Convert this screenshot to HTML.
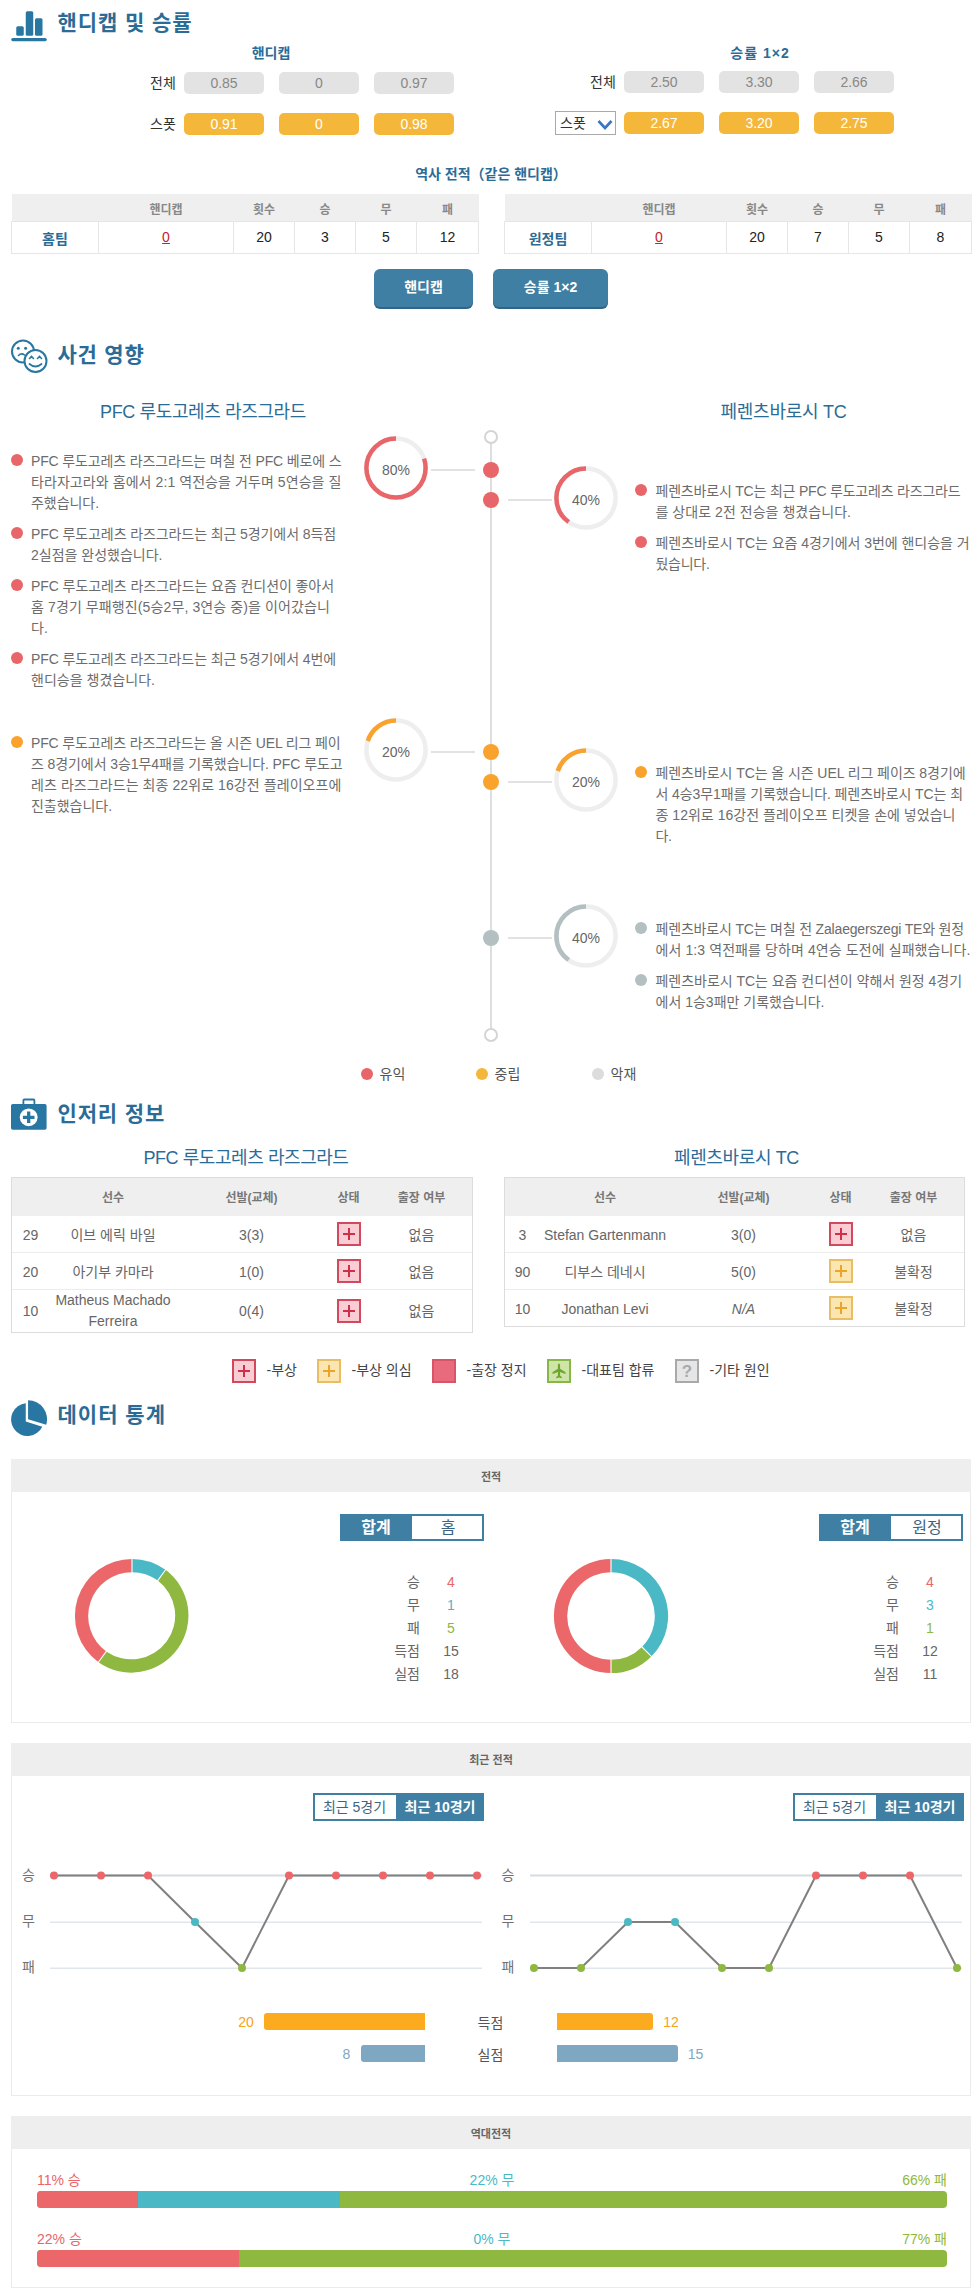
<!DOCTYPE html><html lang="ko"><head><meta charset="utf-8"><title>핸디캡 및 승률</title><style>
*{box-sizing:border-box;margin:0;padding:0}
html,body{width:976px;height:2289px;background:#fff;overflow:hidden}
body{font-family:"Liberation Sans","Noto Sans CJK KR",sans-serif;font-size:13px;color:#666;position:relative}
.abs{position:absolute}
.h1{position:absolute;left:57.5px;font-size:21px;font-weight:bold;color:#2b6c97;white-space:nowrap;line-height:30px}
.pill{position:absolute;width:80px;height:22px;border-radius:5px;text-align:center;line-height:22px;font-size:14px}
.pg{background:#e3e3e3;color:#888}
.py{background:#f5b73a;color:#fff}
.lab{position:absolute;font-size:14px;color:#333;line-height:20px;white-space:nowrap}
.sub{position:absolute;font-size:14px;font-weight:bold;color:#2b6c97;text-align:center;white-space:nowrap;line-height:18px}
.tbl{position:absolute;border-collapse:collapse;table-layout:fixed}
.tbl td,.tbl th{text-align:center;padding:0;font-weight:normal;white-space:nowrap}
.btn{position:absolute;height:38px;border-radius:6px;background:#3f7fa3;box-shadow:0 2px 0 #2f6685;color:#fff;text-align:center;line-height:37px;font-size:14px;font-weight:bold}
.team{position:absolute;font-size:18px;color:#2b6c97;text-align:center;white-space:nowrap;line-height:24px}
.ev{position:absolute;font-size:14px;line-height:21px;color:#6c6c6c;white-space:nowrap}
.dot{position:absolute;border-radius:50%}
</style></head><body>
<svg class="abs" style="left:10px;top:9px" width="38" height="33" viewBox="0 0 38 33">
<rect x="6.25" y="17.25" width="7.5" height="9.5" rx="1.5" fill="#2876a2"/><rect x="15.75" y="2.25" width="7.5" height="24.5" rx="1.5" fill="#2876a2"/><rect x="25" y="9.25" width="7.5" height="17.5" rx="1.5" fill="#2876a2"/><rect x="1.25" y="29" width="35.5" height="3.2" rx="1.6" fill="#2876a2"/></svg>
<div class="h1" style="top:8.2px;letter-spacing:0.929px">핸디캡 및 승률</div>
<div class="sub" style="left:221px;width:100px;top:43.5px">핸디캡</div>
<div class="sub" style="left:710px;width:100px;top:44px;letter-spacing:1.02px">승률 1×2</div>
<div class="lab" style="left:150px;top:73px">전체</div>
<div class="lab" style="left:150px;top:114px">스폿</div>
<div class="lab" style="left:590px;top:72px">전체</div>
<div class="pill pg" style="left:184px;top:72px">0.85</div><div class="pill py" style="left:184px;top:113px">0.91</div>
<div class="pill pg" style="left:279px;top:72px">0</div><div class="pill py" style="left:279px;top:113px">0</div>
<div class="pill pg" style="left:374px;top:72px">0.97</div><div class="pill py" style="left:374px;top:113px">0.98</div>
<div class="pill pg" style="left:624px;top:71px">2.50</div><div class="pill py" style="left:624px;top:112px">2.67</div>
<div class="pill pg" style="left:719px;top:71px">3.30</div><div class="pill py" style="left:719px;top:112px">3.20</div>
<div class="pill pg" style="left:814px;top:71px">2.66</div><div class="pill py" style="left:814px;top:112px">2.75</div>
<div class="abs" style="left:555px;top:111px;width:61px;height:23.5px;border:1px solid #a9a9a9;background:#fff"></div>
<div class="lab" style="left:560px;top:113px">스폿</div>
<svg class="abs" style="left:596.5px;top:119px" width="16" height="12" viewBox="0 0 16 12"><path d="M1.5 2 L8 9 L14.5 2" fill="none" stroke="#3a76c4" stroke-width="2.6"/></svg>
<div class="sub" style="left:341px;width:300px;top:165px;font-size:14px">역사 전적（같은 핸디캡）</div>
<table class="tbl" style="left:11px;top:194px;width:467px"><col style="width:87px"><col style="width:135px"><col style="width:61px"><col style="width:61px"><col style="width:61px"><col style="width:62px"><tr><th style="height:27px;padding-top:3px;background:#efefef;color:#888;font-size:12px;font-weight:bold"></th><th style="height:27px;padding-top:3px;background:#efefef;color:#888;font-size:12px;font-weight:bold">핸디캡</th><th style="height:27px;padding-top:3px;background:#efefef;color:#888;font-size:12px;font-weight:bold">횟수</th><th style="height:27px;padding-top:3px;background:#efefef;color:#888;font-size:12px;font-weight:bold">승</th><th style="height:27px;padding-top:3px;background:#efefef;color:#888;font-size:12px;font-weight:bold">무</th><th style="height:27px;padding-top:3px;background:#efefef;color:#888;font-size:12px;font-weight:bold">패</th></tr><tr><td style="height:32px;padding-top:1px;border:1px solid #e6e6e6;color:#2b6c97;font-weight:bold;font-size:14px">홈팀</td><td style="border:1px solid #e6e6e6;color:#c8202c;font-size:14px"><span style="text-decoration:underline">0</span></td><td style="border:1px solid #e6e6e6;color:#222;font-size:14px">20</td><td style="border:1px solid #e6e6e6;color:#222;font-size:14px">3</td><td style="border:1px solid #e6e6e6;color:#222;font-size:14px">5</td><td style="border:1px solid #e6e6e6;color:#222;font-size:14px">12</td></tr></table>
<table class="tbl" style="left:504px;top:194px;width:467px"><col style="width:87px"><col style="width:135px"><col style="width:61px"><col style="width:61px"><col style="width:61px"><col style="width:62px"><tr><th style="height:27px;padding-top:3px;background:#efefef;color:#888;font-size:12px;font-weight:bold"></th><th style="height:27px;padding-top:3px;background:#efefef;color:#888;font-size:12px;font-weight:bold">핸디캡</th><th style="height:27px;padding-top:3px;background:#efefef;color:#888;font-size:12px;font-weight:bold">횟수</th><th style="height:27px;padding-top:3px;background:#efefef;color:#888;font-size:12px;font-weight:bold">승</th><th style="height:27px;padding-top:3px;background:#efefef;color:#888;font-size:12px;font-weight:bold">무</th><th style="height:27px;padding-top:3px;background:#efefef;color:#888;font-size:12px;font-weight:bold">패</th></tr><tr><td style="height:32px;padding-top:1px;border:1px solid #e6e6e6;color:#2b6c97;font-weight:bold;font-size:14px">원정팀</td><td style="border:1px solid #e6e6e6;color:#c8202c;font-size:14px"><span style="text-decoration:underline">0</span></td><td style="border:1px solid #e6e6e6;color:#222;font-size:14px">20</td><td style="border:1px solid #e6e6e6;color:#222;font-size:14px">7</td><td style="border:1px solid #e6e6e6;color:#222;font-size:14px">5</td><td style="border:1px solid #e6e6e6;color:#222;font-size:14px">8</td></tr></table>
<div class="btn" style="left:374px;top:269px;width:99px">핸디캡</div>
<div class="btn" style="left:493px;top:269px;width:115px">승률 1×2</div>
<svg class="abs" style="left:9px;top:338px" width="42" height="38" viewBox="0 0 42 38"><g fill="none" stroke="#2876a2" stroke-width="2" stroke-linecap="round"><circle cx="14" cy="13.5" r="11" /><circle cx="26.5" cy="23" r="11" fill="#fff"/><path d="M20.5 20.5 l2 -2 l2 2 M28.5 20.5 l2 -2 l2 2" stroke-width="1.6"/><path d="M20.5 26 q6 5 12 0" stroke-width="1.8"/><path d="M9.5 17.5 q3 -3 6 -0.5" stroke-width="1.6"/></g><circle cx="9.3" cy="10.3" r="1.5" fill="#2876a2"/><circle cx="16.6" cy="10.3" r="1.5" fill="#2876a2"/></svg>
<div class="h1" style="top:340px;letter-spacing:0.794px">사건 영향</div>
<div class="team" style="left:53px;width:300px;top:400px;letter-spacing:-0.374px">PFC 루도고레츠 라즈그라드</div>
<div class="team" style="left:633.5px;width:300px;top:400px;letter-spacing:-0.262px">페렌츠바로시 TC</div>
<div class="abs" style="left:490px;top:443px;width:2px;height:586px;background:#dedede"></div>
<div class="dot" style="left:484px;top:430px;width:14px;height:14px;border:2px solid #d4d4d4;background:#fff"></div>
<div class="dot" style="left:484px;top:1028px;width:14px;height:14px;border:2px solid #d4d4d4;background:#fff"></div>
<div class="dot" style="left:483px;top:462px;width:16px;height:16px;background:#e8656a"></div>
<div class="dot" style="left:483px;top:492px;width:16px;height:16px;background:#e8656a"></div>
<div class="abs" style="left:431px;top:469px;width:44px;height:2px;background:#e2e2e2"></div>
<div class="abs" style="left:507.5px;top:499px;width:44px;height:2px;background:#e2e2e2"></div>
<svg class="abs" style="left:362px;top:434px" width="68" height="68" viewBox="-34 -34 68 68"><circle r="29.6" fill="none" stroke="#eeeeee" stroke-width="4.5"/><circle r="29.6" fill="none" stroke="#e8656a" stroke-width="4.5" stroke-dasharray="148.79 185.98" transform="scale(-1,1) rotate(-90)"/><text x="0" y="7" text-anchor="middle" font-size="14" fill="#666" font-family='"Liberation Sans","Noto Sans CJK KR",sans-serif'>80%</text></svg>
<svg class="abs" style="left:552px;top:464px" width="68" height="68" viewBox="-34 -34 68 68"><circle r="29.6" fill="none" stroke="#eeeeee" stroke-width="4.5"/><circle r="29.6" fill="none" stroke="#e8656a" stroke-width="4.5" stroke-dasharray="74.39 185.98" transform="scale(-1,1) rotate(-90)"/><text x="0" y="7" text-anchor="middle" font-size="14" fill="#666" font-family='"Liberation Sans","Noto Sans CJK KR",sans-serif'>40%</text></svg>
<div class="dot" style="left:10.5px;top:453.7px;width:12px;height:12px;background:#e8656a"></div>
<div class="ev" style="left:31px;top:450.8px"><span style="letter-spacing:-0.148px">PFC 루도고레츠 라즈그라드는 며칠 전 PFC 베로에 스</span><br><span style="letter-spacing:0.077px">타라자고라와 홈에서 2:1 역전승을 거두며 5연승을 질</span><br><span style="letter-spacing:-0.049px">주했습니다.</span></div>
<div class="dot" style="left:10.5px;top:526.7px;width:12px;height:12px;background:#e8656a"></div>
<div class="ev" style="left:31px;top:523.8px"><span style="letter-spacing:-0.095px">PFC 루도고레츠 라즈그라드는 최근 5경기에서 8득점</span><br><span style="letter-spacing:0.000px">2실점을 완성했습니다.</span></div>
<div class="dot" style="left:10.5px;top:578.7px;width:12px;height:12px;background:#e8656a"></div>
<div class="ev" style="left:31px;top:575.8px"><span style="letter-spacing:-0.074px">PFC 루도고레츠 라즈그라드는 요즘 컨디션이 좋아서</span><br><span style="letter-spacing:0.111px">홈 7경기 무패행진(5승2무, 3연승 중)을 이어갔습니</span><br><span style="letter-spacing:0.109px">다.</span></div>
<div class="dot" style="left:10.5px;top:652.2px;width:12px;height:12px;background:#e8656a"></div>
<div class="ev" style="left:31px;top:649.3px"><span style="letter-spacing:-0.095px">PFC 루도고레츠 라즈그라드는 최근 5경기에서 4번에</span><br><span style="letter-spacing:0.027px">핸디승을 챙겼습니다.</span></div>
<div class="dot" style="left:635.0px;top:483.7px;width:12px;height:12px;background:#e8656a"></div>
<div class="ev" style="left:655.5px;top:480.8px"><span style="letter-spacing:-0.202px">페렌츠바로시 TC는 최근 PFC 루도고레츠 라즈그라드</span><br><span style="letter-spacing:0.043px">를 상대로 2전 전승을 챙겼습니다.</span></div>
<div class="dot" style="left:635.0px;top:535.7px;width:12px;height:12px;background:#e8656a"></div>
<div class="ev" style="left:655.5px;top:532.8px"><span style="letter-spacing:-0.039px">페렌츠바로시 TC는 요즘 4경기에서 3번에 핸디승을 거</span><br><span style="letter-spacing:-0.284px">뒀습니다.</span></div>
<div class="dot" style="left:483px;top:744px;width:16px;height:16px;background:#f9a22c"></div>
<div class="dot" style="left:483px;top:774px;width:16px;height:16px;background:#f9a22c"></div>
<div class="abs" style="left:431px;top:751px;width:44px;height:2px;background:#e2e2e2"></div>
<div class="abs" style="left:507.5px;top:781px;width:44px;height:2px;background:#e2e2e2"></div>
<svg class="abs" style="left:362px;top:716px" width="68" height="68" viewBox="-34 -34 68 68"><circle r="29.6" fill="none" stroke="#eeeeee" stroke-width="4.5"/><circle r="29.6" fill="none" stroke="#f9a22c" stroke-width="4.5" stroke-dasharray="37.20 185.98" transform="scale(-1,1) rotate(-90)"/><text x="0" y="7" text-anchor="middle" font-size="14" fill="#666" font-family='"Liberation Sans","Noto Sans CJK KR",sans-serif'>20%</text></svg>
<svg class="abs" style="left:552px;top:746px" width="68" height="68" viewBox="-34 -34 68 68"><circle r="29.6" fill="none" stroke="#eeeeee" stroke-width="4.5"/><circle r="29.6" fill="none" stroke="#f9a22c" stroke-width="4.5" stroke-dasharray="37.20 185.98" transform="scale(-1,1) rotate(-90)"/><text x="0" y="7" text-anchor="middle" font-size="14" fill="#666" font-family='"Liberation Sans","Noto Sans CJK KR",sans-serif'>20%</text></svg>
<div class="dot" style="left:10.5px;top:735.7px;width:12px;height:12px;background:#f9a22c"></div>
<div class="ev" style="left:31px;top:732.8px"><span style="letter-spacing:-0.139px">PFC 루도고레츠 라즈그라드는 올 시즌 UEL 리그 페이</span><br><span style="letter-spacing:-0.091px">즈 8경기에서 3승1무4패를 기록했습니다. PFC 루도고</span><br><span style="letter-spacing:0.079px">레츠 라즈그라드는 최종 22위로 16강전 플레이오프에</span><br><span style="letter-spacing:-0.025px">진출했습니다.</span></div>
<div class="dot" style="left:635.0px;top:765.7px;width:12px;height:12px;background:#f9a22c"></div>
<div class="ev" style="left:655.5px;top:762.8px"><span style="letter-spacing:-0.072px">페렌츠바로시 TC는 올 시즌 UEL 리그 페이즈 8경기에</span><br><span style="letter-spacing:-0.086px">서 4승3무1패를 기록했습니다. 페렌츠바로시 TC는 최</span><br><span style="letter-spacing:0.027px">종 12위로 16강전 플레이오프 티켓을 손에 넣었습니</span><br><span style="letter-spacing:-0.391px">다.</span></div>
<div class="dot" style="left:483px;top:930px;width:16px;height:16px;background:#b3bfc0"></div>
<div class="abs" style="left:507.5px;top:937px;width:44px;height:2px;background:#e2e2e2"></div>
<svg class="abs" style="left:552px;top:902px" width="68" height="68" viewBox="-34 -34 68 68"><circle r="29.6" fill="none" stroke="#eeeeee" stroke-width="4.5"/><circle r="29.6" fill="none" stroke="#b3bfc0" stroke-width="4.5" stroke-dasharray="74.39 185.98" transform="scale(-1,1) rotate(-90)"/><text x="0" y="7" text-anchor="middle" font-size="14" fill="#666" font-family='"Liberation Sans","Noto Sans CJK KR",sans-serif'>40%</text></svg>
<div class="dot" style="left:635.0px;top:921.7px;width:12px;height:12px;background:#b3bfc0"></div>
<div class="ev" style="left:655.5px;top:918.8px"><span style="letter-spacing:-0.181px">페렌츠바로시 TC는 며칠 전 Zalaegerszegi TE와 원정</span><br><span style="letter-spacing:0.094px">에서 1:3 역전패를 당하며 4연승 도전에 실패했습니다.</span></div>
<div class="dot" style="left:635.0px;top:973.7px;width:12px;height:12px;background:#b3bfc0"></div>
<div class="ev" style="left:655.5px;top:970.8px"><span style="letter-spacing:-0.031px">페렌츠바로시 TC는 요즘 컨디션이 약해서 원정 4경기</span><br><span style="letter-spacing:0.005px">에서 1승3패만 기록했습니다.</span></div>
<div class="dot" style="left:360.5px;top:1067.5px;width:12px;height:12px;background:#e8656a"></div>
<div class="abs" style="left:379.5px;top:1064px;font-size:14px;line-height:20px;color:#555;white-space:nowrap">유익</div>
<div class="dot" style="left:475.5px;top:1067.5px;width:12px;height:12px;background:#f5b73a"></div>
<div class="abs" style="left:494.5px;top:1064px;font-size:14px;line-height:20px;color:#555;white-space:nowrap">중립</div>
<div class="dot" style="left:591.5px;top:1067.5px;width:12px;height:12px;background:#dcdcdc"></div>
<div class="abs" style="left:610.5px;top:1064px;font-size:14px;line-height:20px;color:#555;white-space:nowrap">악재</div>
<svg class="abs" style="left:10.4px;top:1096.6px" width="38" height="34" viewBox="0 0 38 34"><rect x="13.4" y="2.5" width="11" height="7" rx="0.8" fill="none" stroke="#2876a2" stroke-width="1.8"/><rect x="1" y="7" width="35.6" height="25.8" rx="1.8" fill="#2876a2"/><circle cx="18.7" cy="20.3" r="8.9" fill="#fff"/><path d="M18.7 14.5 v11.6 M12.9 20.3 h11.6" stroke="#2876a2" stroke-width="3.3"/></svg>
<div class="h1" style="top:1099.3px;letter-spacing:0.853px">인저리 정보</div>
<div class="team" style="left:96px;width:300px;top:1146px;letter-spacing:-0.441px">PFC 루도고레츠 라즈그라드</div>
<div class="team" style="left:586.5px;width:300px;top:1146px;letter-spacing:-0.373px">페렌츠바로시 TC</div>
<div class="abs" style="left:11px;top:1177px;width:462px;height:156px;border:1px solid #dcdcdc"></div>
<div class="abs" style="left:12px;top:1178px;width:460px;height:37.6px;background:#efefef"></div>
<div class="abs" style="left:53px;width:120px;top:1189px;text-align:center;font-size:12px;font-weight:bold;color:#777;line-height:18px;white-space:nowrap">선수</div>
<div class="abs" style="left:191.5px;width:120px;top:1189px;text-align:center;font-size:12px;font-weight:bold;color:#777;line-height:18px;white-space:nowrap">선발(교체)</div>
<div class="abs" style="left:288.5px;width:120px;top:1189px;text-align:center;font-size:12px;font-weight:bold;color:#777;line-height:18px;white-space:nowrap">상태</div>
<div class="abs" style="left:361.5px;width:120px;top:1189px;text-align:center;font-size:12px;font-weight:bold;color:#777;line-height:18px;white-space:nowrap">출장 여부</div>
<div class="abs" style="left:0.5px;width:60px;top:1225.0px;text-align:center;font-size:14px;color:#666;line-height:20px">29</div>
<div class="abs" style="left:33px;width:160px;top:1224.5px;text-align:center;font-size:14px;color:#666;line-height:21px;white-space:nowrap">이브 에릭 바일</div>
<div class="abs" style="left:211.5px;width:80px;top:1225.0px;text-align:center;font-size:14px;color:#666;line-height:20px">3(3)</div>
<svg class="abs" style="left:336.5px;top:1222px" width="24" height="24" viewBox="0 0 24 24"><rect x="1" y="1" width="22" height="22" fill="#f9cdd3" stroke="#d2495d" stroke-width="2"/><path d="M12 6 v12 M6 12 h12" stroke="#cf3049" stroke-width="2"/></svg>
<div class="abs" style="left:381.5px;width:80px;top:1225.0px;text-align:center;font-size:14px;color:#666;line-height:20px">없음</div>
<div class="abs" style="left:12px;top:1252px;width:460px;height:1px;background:#ececec"></div>
<div class="abs" style="left:0.5px;width:60px;top:1262.0px;text-align:center;font-size:14px;color:#666;line-height:20px">20</div>
<div class="abs" style="left:33px;width:160px;top:1261.5px;text-align:center;font-size:14px;color:#666;line-height:21px;white-space:nowrap">아기부 카마라</div>
<div class="abs" style="left:211.5px;width:80px;top:1262.0px;text-align:center;font-size:14px;color:#666;line-height:20px">1(0)</div>
<svg class="abs" style="left:336.5px;top:1259px" width="24" height="24" viewBox="0 0 24 24"><rect x="1" y="1" width="22" height="22" fill="#f9cdd3" stroke="#d2495d" stroke-width="2"/><path d="M12 6 v12 M6 12 h12" stroke="#cf3049" stroke-width="2"/></svg>
<div class="abs" style="left:381.5px;width:80px;top:1262.0px;text-align:center;font-size:14px;color:#666;line-height:20px">없음</div>
<div class="abs" style="left:12px;top:1289px;width:460px;height:1px;background:#ececec"></div>
<div class="abs" style="left:0.5px;width:60px;top:1301.0px;text-align:center;font-size:14px;color:#666;line-height:20px">10</div>
<div class="abs" style="left:33px;width:160px;top:1290.0px;text-align:center;font-size:14px;color:#666;line-height:21px;white-space:nowrap">Matheus Machado<br>Ferreira</div>
<div class="abs" style="left:211.5px;width:80px;top:1301.0px;text-align:center;font-size:14px;color:#666;line-height:20px">0(4)</div>
<svg class="abs" style="left:336.5px;top:1299px" width="24" height="24" viewBox="0 0 24 24"><rect x="1" y="1" width="22" height="22" fill="#f9cdd3" stroke="#d2495d" stroke-width="2"/><path d="M12 6 v12 M6 12 h12" stroke="#cf3049" stroke-width="2"/></svg>
<div class="abs" style="left:381.5px;width:80px;top:1301.0px;text-align:center;font-size:14px;color:#666;line-height:20px">없음</div>
<div class="abs" style="left:504px;top:1177px;width:461px;height:150px;border:1px solid #dcdcdc"></div>
<div class="abs" style="left:505px;top:1178px;width:459px;height:37.6px;background:#efefef"></div>
<div class="abs" style="left:545px;width:120px;top:1189px;text-align:center;font-size:12px;font-weight:bold;color:#777;line-height:18px;white-space:nowrap">선수</div>
<div class="abs" style="left:683.5px;width:120px;top:1189px;text-align:center;font-size:12px;font-weight:bold;color:#777;line-height:18px;white-space:nowrap">선발(교체)</div>
<div class="abs" style="left:780.5px;width:120px;top:1189px;text-align:center;font-size:12px;font-weight:bold;color:#777;line-height:18px;white-space:nowrap">상태</div>
<div class="abs" style="left:853.5px;width:120px;top:1189px;text-align:center;font-size:12px;font-weight:bold;color:#777;line-height:18px;white-space:nowrap">출장 여부</div>
<div class="abs" style="left:492.5px;width:60px;top:1225.0px;text-align:center;font-size:14px;color:#666;line-height:20px">3</div>
<div class="abs" style="left:525px;width:160px;top:1224.5px;text-align:center;font-size:14px;color:#666;line-height:21px;white-space:nowrap">Stefan Gartenmann</div>
<div class="abs" style="left:703.5px;width:80px;top:1225.0px;text-align:center;font-size:14px;color:#666;line-height:20px">3(0)</div>
<svg class="abs" style="left:828.5px;top:1222px" width="24" height="24" viewBox="0 0 24 24"><rect x="1" y="1" width="22" height="22" fill="#f9cdd3" stroke="#d2495d" stroke-width="2"/><path d="M12 6 v12 M6 12 h12" stroke="#cf3049" stroke-width="2"/></svg>
<div class="abs" style="left:873.5px;width:80px;top:1225.0px;text-align:center;font-size:14px;color:#666;line-height:20px">없음</div>
<div class="abs" style="left:505px;top:1252px;width:459px;height:1px;background:#ececec"></div>
<div class="abs" style="left:492.5px;width:60px;top:1262.0px;text-align:center;font-size:14px;color:#666;line-height:20px">90</div>
<div class="abs" style="left:525px;width:160px;top:1261.5px;text-align:center;font-size:14px;color:#666;line-height:21px;white-space:nowrap">디부스 데네시</div>
<div class="abs" style="left:703.5px;width:80px;top:1262.0px;text-align:center;font-size:14px;color:#666;line-height:20px">5(0)</div>
<svg class="abs" style="left:828.5px;top:1259px" width="24" height="24" viewBox="0 0 24 24"><rect x="1" y="1" width="22" height="22" fill="#fbe6b2" stroke="#e8bd63" stroke-width="2"/><path d="M12 6 v12 M6 12 h12" stroke="#eaa528" stroke-width="2"/></svg>
<div class="abs" style="left:873.5px;width:80px;top:1262.0px;text-align:center;font-size:14px;color:#666;line-height:20px">불확정</div>
<div class="abs" style="left:505px;top:1289px;width:459px;height:1px;background:#ececec"></div>
<div class="abs" style="left:492.5px;width:60px;top:1299.0px;text-align:center;font-size:14px;color:#666;line-height:20px">10</div>
<div class="abs" style="left:525px;width:160px;top:1298.5px;text-align:center;font-size:14px;color:#666;line-height:21px;white-space:nowrap">Jonathan Levi</div>
<div class="abs" style="left:703.5px;width:80px;top:1299.0px;text-align:center;font-size:14px;color:#666;line-height:20px"><i>N/A</i></div>
<svg class="abs" style="left:828.5px;top:1296px" width="24" height="24" viewBox="0 0 24 24"><rect x="1" y="1" width="22" height="22" fill="#fbe6b2" stroke="#e8bd63" stroke-width="2"/><path d="M12 6 v12 M6 12 h12" stroke="#eaa528" stroke-width="2"/></svg>
<div class="abs" style="left:873.5px;width:80px;top:1299.0px;text-align:center;font-size:14px;color:#666;line-height:20px">불확정</div>
<svg class="abs" style="left:232px;top:1359px" width="24" height="24" viewBox="0 0 24 24"><rect x="1" y="1" width="22" height="22" fill="#f9cdd3" stroke="#d2495d" stroke-width="2"/><path d="M12 6 v12 M6 12 h12" stroke="#cf3049" stroke-width="2"/></svg>
<div class="abs" style="left:266.5px;top:1360px;font-size:14px;color:#444;line-height:20px;white-space:nowrap">-부상</div>
<svg class="abs" style="left:317px;top:1359px" width="24" height="24" viewBox="0 0 24 24"><rect x="1" y="1" width="22" height="22" fill="#fbe6b2" stroke="#e8bd63" stroke-width="2"/><path d="M12 6 v12 M6 12 h12" stroke="#eaa528" stroke-width="2"/></svg>
<div class="abs" style="left:351.5px;top:1360px;font-size:14px;color:#444;line-height:20px;white-space:nowrap">-부상 의심</div>
<svg class="abs" style="left:432px;top:1359px" width="24" height="24" viewBox="0 0 24 24"><rect x="1" y="1" width="22" height="22" fill="#e96a7b" stroke="#d9536a" stroke-width="2"/></svg>
<div class="abs" style="left:466.5px;top:1360px;font-size:14px;color:#444;line-height:20px;white-space:nowrap">-출장 정지</div>
<svg class="abs" style="left:547px;top:1359px" width="24" height="24" viewBox="0 0 24 24"><rect x="1" y="1" width="22" height="22" fill="#cfe5a8" stroke="#88b648" stroke-width="2"/><path d="M12 4.5 c0.9 0 1.1 1 1.1 2 v3.2 l5.4 3.6 v1.6 l-5.4 -1.8 v3.6 l1.7 1.3 v1.2 l-2.8 -0.8 l-2.8 0.8 v-1.2 l1.7 -1.3 v-3.6 l-5.4 1.8 v-1.6 l5.4 -3.6 v-3.2 c0 -1 0.2 -2 1.1 -2z" fill="#6ea52f"/></svg>
<div class="abs" style="left:581.5px;top:1360px;font-size:14px;color:#444;line-height:20px;white-space:nowrap">-대표팀 합류</div>
<svg class="abs" style="left:675px;top:1359px" width="24" height="24" viewBox="0 0 24 24"><rect x="1" y="1" width="22" height="22" fill="#e6e6e6" stroke="#a9a9a9" stroke-width="2"/><text x="12" y="18" text-anchor="middle" font-size="17" font-weight="bold" fill="#aaaaaa" font-family='"Liberation Sans",sans-serif'>?</text></svg>
<div class="abs" style="left:709.5px;top:1360px;font-size:14px;color:#444;line-height:20px;white-space:nowrap">-기타 원인</div>
<svg class="abs" style="left:9px;top:1398px" width="42" height="42" viewBox="0 0 42 42"><path d="M16.75 5.29 A16.4 16.4 0 1 0 33.3 28.65 L16.75 23.6 Z" fill="#2876a2"/><path d="M19.05 21.3 L19.05 2.3 A19 19 0 0 1 37.22 26.86 Z" fill="#2876a2"/></svg>
<div class="h1" style="top:1399.8px;letter-spacing:1.012px">데이터 통계</div>
<div class="abs" style="left:11px;top:1459px;width:960px;height:264px;border:1px solid #ebebeb"></div>
<div class="abs" style="left:11px;top:1459px;width:960px;height:33px;background:#eeeeee;text-align:center;font-size:11px;font-weight:bold;color:#666;line-height:36px;overflow:hidden">전적</div>
<div class="abs" style="left:340px;top:1514px;width:144px;height:27px;border:2px solid #3f7fa3;background:#fff"></div>
<div class="abs" style="left:340px;top:1514px;width:72px;height:27px;background:#3f7fa3"></div>
<div class="abs" style="left:340px;top:1514px;width:72px;height:27px;line-height:27px;text-align:center;font-size:16px;color:#fff;font-weight:bold;white-space:nowrap">합계</div>
<div class="abs" style="left:412px;top:1514px;width:72px;height:27px;line-height:27px;text-align:center;font-size:16px;color:#3d6580;font-weight:normal;white-space:nowrap">홈</div>
<div class="abs" style="left:819px;top:1514px;width:144px;height:27px;border:2px solid #3f7fa3;background:#fff"></div>
<div class="abs" style="left:819px;top:1514px;width:72px;height:27px;background:#3f7fa3"></div>
<div class="abs" style="left:819px;top:1514px;width:72px;height:27px;line-height:27px;text-align:center;font-size:16px;color:#fff;font-weight:bold;white-space:nowrap">합계</div>
<div class="abs" style="left:891px;top:1514px;width:72px;height:27px;line-height:27px;text-align:center;font-size:16px;color:#3d6580;font-weight:normal;white-space:nowrap">원정</div>
<svg class="abs" style="left:72.19999999999999px;top:1556.2px" width="120" height="120" viewBox="-60 -60 120 120"><path d="M0.00 -57.10 A57.1 57.1 0 0 1 33.56 -46.19 L25.74 -35.43 A43.8 43.8 0 0 0 0.00 -43.80 Z" fill="#4bb9c5"/><path d="M33.56 -46.19 A57.1 57.1 0 0 1 -33.56 46.19 L-25.74 35.43 A43.8 43.8 0 0 0 25.74 -35.43 Z" fill="#8fb840"/><path d="M-33.56 46.19 A57.1 57.1 0 0 1 -0.00 -57.10 L-0.00 -43.80 A43.8 43.8 0 0 0 -25.74 35.43 Z" fill="#ec6769"/><line x1="0.00" y1="-58.10" x2="0.00" y2="-42.80" stroke="#fff" stroke-width="1.1"/><line x1="34.15" y1="-47.00" x2="25.16" y2="-34.63" stroke="#fff" stroke-width="1.1"/><line x1="-34.15" y1="47.00" x2="-25.16" y2="34.63" stroke="#fff" stroke-width="1.1"/></svg>
<svg class="abs" style="left:551.2px;top:1556.2px" width="120" height="120" viewBox="-60 -60 120 120"><path d="M0.00 -57.10 A57.1 57.1 0 0 1 40.38 40.38 L30.97 30.97 A43.8 43.8 0 0 0 0.00 -43.80 Z" fill="#4bb9c5"/><path d="M40.38 40.38 A57.1 57.1 0 0 1 0.00 57.10 L0.00 43.80 A43.8 43.8 0 0 0 30.97 30.97 Z" fill="#8fb840"/><path d="M0.00 57.10 A57.1 57.1 0 0 1 -0.00 -57.10 L-0.00 -43.80 A43.8 43.8 0 0 0 0.00 43.80 Z" fill="#ec6769"/><line x1="0.00" y1="-58.10" x2="0.00" y2="-42.80" stroke="#fff" stroke-width="1.1"/><line x1="41.08" y1="41.08" x2="30.26" y2="30.26" stroke="#fff" stroke-width="1.1"/><line x1="0.00" y1="58.10" x2="0.00" y2="42.80" stroke="#fff" stroke-width="1.1"/></svg>
<div class="abs" style="left:360px;width:60px;top:1572px;text-align:right;font-size:14px;color:#666;line-height:20px">승</div>
<div class="abs" style="left:431px;width:40px;top:1572px;text-align:center;font-size:14px;color:#e8656a;line-height:20px">4</div>
<div class="abs" style="left:360px;width:60px;top:1595px;text-align:right;font-size:14px;color:#666;line-height:20px">무</div>
<div class="abs" style="left:431px;width:40px;top:1595px;text-align:center;font-size:14px;color:#4bb9c5;line-height:20px">1</div>
<div class="abs" style="left:360px;width:60px;top:1618px;text-align:right;font-size:14px;color:#666;line-height:20px">패</div>
<div class="abs" style="left:431px;width:40px;top:1618px;text-align:center;font-size:14px;color:#8fb840;line-height:20px">5</div>
<div class="abs" style="left:360px;width:60px;top:1641px;text-align:right;font-size:14px;color:#666;line-height:20px">득점</div>
<div class="abs" style="left:431px;width:40px;top:1641px;text-align:center;font-size:14px;color:#666;line-height:20px">15</div>
<div class="abs" style="left:360px;width:60px;top:1664px;text-align:right;font-size:14px;color:#666;line-height:20px">실점</div>
<div class="abs" style="left:431px;width:40px;top:1664px;text-align:center;font-size:14px;color:#666;line-height:20px">18</div>
<div class="abs" style="left:839px;width:60px;top:1572px;text-align:right;font-size:14px;color:#666;line-height:20px">승</div>
<div class="abs" style="left:910px;width:40px;top:1572px;text-align:center;font-size:14px;color:#e8656a;line-height:20px">4</div>
<div class="abs" style="left:839px;width:60px;top:1595px;text-align:right;font-size:14px;color:#666;line-height:20px">무</div>
<div class="abs" style="left:910px;width:40px;top:1595px;text-align:center;font-size:14px;color:#4bb9c5;line-height:20px">3</div>
<div class="abs" style="left:839px;width:60px;top:1618px;text-align:right;font-size:14px;color:#666;line-height:20px">패</div>
<div class="abs" style="left:910px;width:40px;top:1618px;text-align:center;font-size:14px;color:#8fb840;line-height:20px">1</div>
<div class="abs" style="left:839px;width:60px;top:1641px;text-align:right;font-size:14px;color:#666;line-height:20px">득점</div>
<div class="abs" style="left:910px;width:40px;top:1641px;text-align:center;font-size:14px;color:#666;line-height:20px">12</div>
<div class="abs" style="left:839px;width:60px;top:1664px;text-align:right;font-size:14px;color:#666;line-height:20px">실점</div>
<div class="abs" style="left:910px;width:40px;top:1664px;text-align:center;font-size:14px;color:#666;line-height:20px">11</div>
<div class="abs" style="left:11px;top:1743px;width:960px;height:352.5px;border:1px solid #ebebeb"></div>
<div class="abs" style="left:11px;top:1743px;width:960px;height:32.5px;background:#eeeeee;text-align:center;font-size:11px;font-weight:bold;color:#666;line-height:35.5px;overflow:hidden">최근 전적</div>
<div class="abs" style="left:313px;top:1793px;width:171px;height:28px;border:2px solid #3f7fa3;background:#fff"></div>
<div class="abs" style="left:396px;top:1793px;width:88px;height:28px;background:#3f7fa3"></div>
<div class="abs" style="left:313px;top:1793px;width:83px;height:28px;line-height:28px;text-align:center;font-size:14px;color:#3d6580;font-weight:normal;white-space:nowrap">최근 5경기</div>
<div class="abs" style="left:396px;top:1793px;width:88px;height:28px;line-height:28px;text-align:center;font-size:14px;color:#fff;font-weight:bold;white-space:nowrap">최근 10경기</div>
<div class="abs" style="left:793px;top:1793px;width:171px;height:28px;border:2px solid #3f7fa3;background:#fff"></div>
<div class="abs" style="left:876px;top:1793px;width:88px;height:28px;background:#3f7fa3"></div>
<div class="abs" style="left:793px;top:1793px;width:83px;height:28px;line-height:28px;text-align:center;font-size:14px;color:#3d6580;font-weight:normal;white-space:nowrap">최근 5경기</div>
<div class="abs" style="left:876px;top:1793px;width:88px;height:28px;line-height:28px;text-align:center;font-size:14px;color:#fff;font-weight:bold;white-space:nowrap">최근 10경기</div>
<svg class="abs" style="left:0;top:1850px" width="976" height="140" viewBox="0 1850 976 140"><rect x="50" y="1874.5" width="432" height="2" fill="#d6dce1"/><rect x="50" y="1921.5" width="432" height="1.5" fill="#e1e6ea"/><rect x="50" y="1967.5" width="432" height="1.5" fill="#e1e6ea"/><polyline points="54,1875.5 101,1875.5 148,1875.5 195,1922 242,1968 289,1875.5 336,1875.5 383,1875.5 430,1875.5 477,1875.5" fill="none" stroke="#808080" stroke-width="2" stroke-linejoin="round"/><circle cx="54" cy="1875.5" r="4" fill="#ec6769"/><circle cx="101" cy="1875.5" r="4" fill="#ec6769"/><circle cx="148" cy="1875.5" r="4" fill="#ec6769"/><circle cx="195" cy="1922" r="4" fill="#4bb9c5"/><circle cx="242" cy="1968" r="4" fill="#8fb840"/><circle cx="289" cy="1875.5" r="4" fill="#ec6769"/><circle cx="336" cy="1875.5" r="4" fill="#ec6769"/><circle cx="383" cy="1875.5" r="4" fill="#ec6769"/><circle cx="430" cy="1875.5" r="4" fill="#ec6769"/><circle cx="477" cy="1875.5" r="4" fill="#ec6769"/></svg>
<div class="abs" style="left:13.5px;width:30px;top:1864.5px;text-align:center;font-size:14px;color:#707070;line-height:20px">승</div>
<div class="abs" style="left:13.5px;width:30px;top:1911px;text-align:center;font-size:14px;color:#707070;line-height:20px">무</div>
<div class="abs" style="left:13.5px;width:30px;top:1957px;text-align:center;font-size:14px;color:#707070;line-height:20px">패</div>
<svg class="abs" style="left:0;top:1850px" width="976" height="140" viewBox="0 1850 976 140"><rect x="530" y="1874.5" width="432" height="2" fill="#d6dce1"/><rect x="530" y="1921.5" width="432" height="1.5" fill="#e1e6ea"/><rect x="530" y="1967.5" width="432" height="1.5" fill="#e1e6ea"/><polyline points="534,1968 581,1968 628,1922 675,1922 722,1968 769,1968 816,1875.5 863,1875.5 910,1875.5 957,1968" fill="none" stroke="#808080" stroke-width="2" stroke-linejoin="round"/><circle cx="534" cy="1968" r="4" fill="#8fb840"/><circle cx="581" cy="1968" r="4" fill="#8fb840"/><circle cx="628" cy="1922" r="4" fill="#4bb9c5"/><circle cx="675" cy="1922" r="4" fill="#4bb9c5"/><circle cx="722" cy="1968" r="4" fill="#8fb840"/><circle cx="769" cy="1968" r="4" fill="#8fb840"/><circle cx="816" cy="1875.5" r="4" fill="#ec6769"/><circle cx="863" cy="1875.5" r="4" fill="#ec6769"/><circle cx="910" cy="1875.5" r="4" fill="#ec6769"/><circle cx="957" cy="1968" r="4" fill="#8fb840"/></svg>
<div class="abs" style="left:493px;width:30px;top:1864.5px;text-align:center;font-size:14px;color:#707070;line-height:20px">승</div>
<div class="abs" style="left:493px;width:30px;top:1911px;text-align:center;font-size:14px;color:#707070;line-height:20px">무</div>
<div class="abs" style="left:493px;width:30px;top:1957px;text-align:center;font-size:14px;color:#707070;line-height:20px">패</div>
<div class="abs" style="left:264px;top:2012.7px;width:161px;height:17px;background:#fcaa1e;border-radius:3px 0 0 3px"></div>
<div class="abs" style="left:361px;top:2045px;width:64px;height:17px;background:#7ea8c1;border-radius:3px 0 0 3px"></div>
<div class="abs" style="left:557px;top:2012.7px;width:96px;height:17px;background:#fcaa1e;border-radius:0 3px 3px 0"></div>
<div class="abs" style="left:557px;top:2045px;width:121px;height:17px;background:#7ea8c1;border-radius:0 3px 3px 0"></div>
<div class="abs" style="left:226px;width:40px;top:2011.7px;text-align:center;font-size:14px;color:#f5a21d;line-height:20px">20</div>
<div class="abs" style="left:326.5px;width:40px;top:2044px;text-align:center;font-size:14px;color:#7ea8c1;line-height:20px">8</div>
<div class="abs" style="left:651px;width:40px;top:2011.7px;text-align:center;font-size:14px;color:#f5a21d;line-height:20px">12</div>
<div class="abs" style="left:675.5px;width:40px;top:2044px;text-align:center;font-size:14px;color:#7ea8c1;line-height:20px">15</div>
<div class="abs" style="left:470.5px;width:40px;top:2012.7px;text-align:center;font-size:14px;color:#555;line-height:20px">득점</div>
<div class="abs" style="left:470.5px;width:40px;top:2045px;text-align:center;font-size:14px;color:#555;line-height:20px">실점</div>
<div class="abs" style="left:11px;top:2116px;width:960px;height:172px;border:1px solid #ebebeb"></div>
<div class="abs" style="left:11px;top:2116px;width:960px;height:33px;background:#eeeeee;text-align:center;font-size:11px;font-weight:bold;color:#666;line-height:36px;overflow:hidden">역대전적</div>
<div class="abs" style="left:37px;top:2191px;width:910px;height:17px;border-radius:4px;overflow:hidden;background:#8fb840">
<div class="abs" style="left:0.0px;top:0;width:101.1px;height:17px;background:#ec6769"></div>
<div class="abs" style="left:101.1px;top:0;width:202.2px;height:17px;background:#4bb9c5"></div>
</div>
<div class="abs" style="left:37px;top:2170px;font-size:14px;color:#e8656a;line-height:20px;white-space:nowrap">11% 승</div>
<div class="abs" style="left:392px;width:200px;text-align:center;top:2170px;font-size:14px;color:#4bb9c5;line-height:20px;white-space:nowrap">22% 무</div>
<div class="abs" style="left:747px;width:200px;text-align:right;top:2170px;font-size:14px;color:#8fb840;line-height:20px;white-space:nowrap">66% 패</div>
<div class="abs" style="left:37px;top:2250px;width:910px;height:17px;border-radius:4px;overflow:hidden;background:#8fb840">
<div class="abs" style="left:0.0px;top:0;width:202.2px;height:17px;background:#ec6769"></div>
<div class="abs" style="left:202.2px;top:0;width:0.0px;height:17px;background:#4bb9c5"></div>
</div>
<div class="abs" style="left:37px;top:2229px;font-size:14px;color:#e8656a;line-height:20px;white-space:nowrap">22% 승</div>
<div class="abs" style="left:392px;width:200px;text-align:center;top:2229px;font-size:14px;color:#4bb9c5;line-height:20px;white-space:nowrap">0% 무</div>
<div class="abs" style="left:747px;width:200px;text-align:right;top:2229px;font-size:14px;color:#8fb840;line-height:20px;white-space:nowrap">77% 패</div>
</body></html>
